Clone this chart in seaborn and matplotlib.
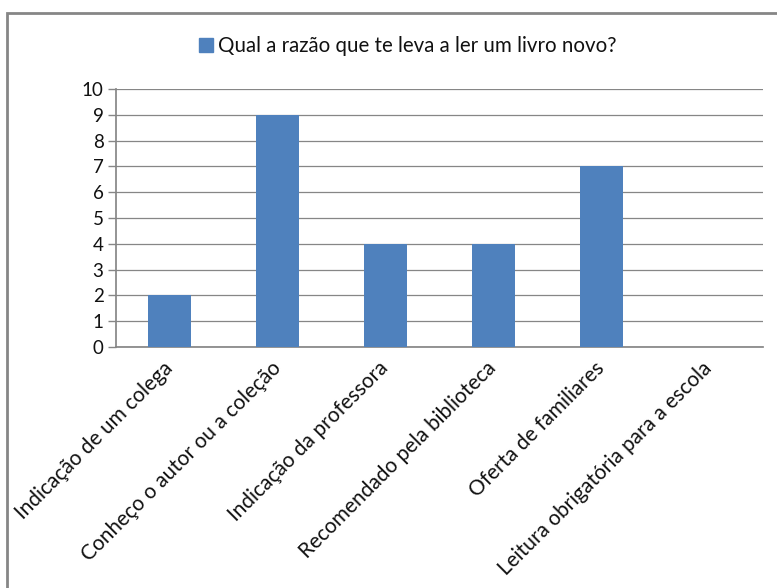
import matplotlib
matplotlib.use("Agg")
import matplotlib.pyplot as plt
import matplotlib.patches as mpatches
import seaborn as sns
import pandas as pd
import numpy as np

# Dados do gráfico
categorias = [
    "Indicação de um colega",
    "Conheço o autor ou a coleção",
    "Indicação da professora",
    "Recomendado pela biblioteca",
    "Oferta de familiares",
    "Leitura obrigatória para a escola",
]
valores = [2, 9, 4, 4, 7, 0]
serie = "Qual a razão que te leva a ler um livro novo?"
y_ticks = list(range(0, 11))

cor_barra = "#4F81BD"
cor_cinza = "#868686"

sns.set_theme(style="white")
plt.rcParams["font.family"] = ["Lato", "DejaVu Sans"]

df = pd.DataFrame({"categoria": categorias, "valor": valores})

fig = plt.figure(figsize=(7.77, 5.88), dpi=100)
ax = fig.add_axes([0.1493, 0.4099, 0.8327, 0.4388])

sns.barplot(data=df, x="categoria", y="valor", color=cor_barra, width=0.4,
            saturation=1, ax=ax, zorder=3)
for p in ax.patches:
    p.set_edgecolor("none")

ax.set_ylim(0, 10)
ax.set_xlim(-0.5, len(categorias) - 0.5)
ax.set_yticks(y_ticks)
ax.set_yticklabels([str(t) for t in y_ticks], fontsize=13.5, color="#111111")
ax.grid(axis="y", color=cor_cinza, linewidth=0.9, zorder=0)
ax.set_xlabel("")
ax.set_ylabel("")

# Rótulos do eixo x inclinados
ax.set_xticks(range(len(categorias)))
ax.set_xticklabels(categorias, rotation=45, ha="right", va="center",
                   rotation_mode="anchor", fontsize=15, color="#111111")
ax.tick_params(axis="x", which="major", length=0, pad=13)
ax.set_xticks(np.arange(-0.5, len(categorias)), minor=True)
ax.tick_params(axis="x", which="minor", length=5, color=cor_cinza, width=1, direction="out")
ax.tick_params(axis="y", length=6, color=cor_cinza, width=1, direction="out", left=True, pad=3)

for lado in ["top", "right"]:
    ax.spines[lado].set_visible(False)
ax.spines["left"].set_color(cor_cinza)
ax.spines["bottom"].set_color(cor_cinza)

# Legenda no topo
handle = mpatches.Patch(color=cor_barra, label=serie)
fig.legend(handles=[handle], loc="center", bbox_to_anchor=(0.525, 0.921),
           frameon=False, fontsize=14.8, handlelength=0.7, handleheight=0.7,
           handletextpad=0.25, labelcolor="#111111")

# Moldura do gráfico
moldura = mpatches.Rectangle((0.009, -0.1), 1.2, 0.978 + 0.1, transform=fig.transFigure,
                             fill=False, edgecolor=cor_cinza, linewidth=2)
fig.patches.append(moldura)

fig.savefig("out.png", dpi=100)
